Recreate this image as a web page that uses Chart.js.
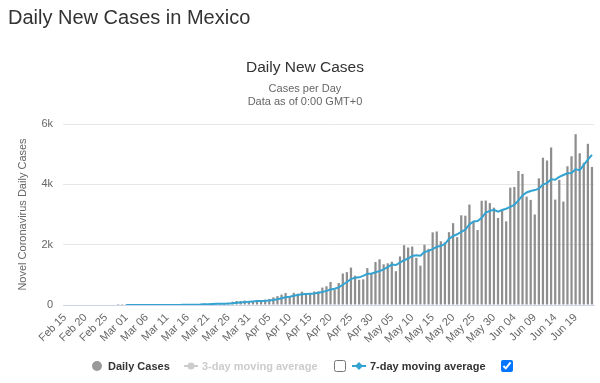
<!DOCTYPE html>
<html>
<head>
<meta charset="utf-8">
<script src="https://cdn.jsdelivr.net/npm/chart.js@4/dist/chart.umd.min.js"></script>
<style>
  html, body { margin: 0; padding: 0; background: #fff; }
  body { width: 600px; height: 383px; position: relative; overflow: hidden; font-family: "Liberation Sans", Arial, sans-serif; }
  #wrap { position: absolute; left: 0; top: 0; width: 600px; height: 383px; }
  .abs { position: absolute; white-space: nowrap; }
  #heading { left: 8px; top: 7px; font-size: 20px; line-height: 20px; color: #333; }
  .ctr { left: 5px; width: 600px; text-align: center; }
  #ctitle { top: 59px; font-size: 15.5px; line-height: 15.5px; color: #333; }
  #sub1 { top: 83px; font-size: 11px; line-height: 11px; color: #666; }
  #sub2 { top: 96px; font-size: 11px; line-height: 11px; color: #666; }
  .leg { font-size: 11px; line-height: 11px; font-weight: bold; top: 361px; }
  input[type=checkbox] { position: absolute; margin: 0; width: 12px; height: 12px; }
</style>
</head>
<body>
<div id="wrap"><canvas id="c" width="600" height="383"></canvas></div>
<div id="heading" class="abs">Daily New Cases in Mexico</div>
<div id="ctitle" class="abs ctr">Daily New Cases</div>
<div id="sub1" class="abs ctr">Cases per Day</div>
<div id="sub2" class="abs ctr">Data as of 0:00 GMT+0</div>

<svg class="abs" style="left:88px;top:358px" width="290" height="16">
  <circle cx="9" cy="8" r="5" fill="#999"/>
  <line x1="96" y1="8" x2="110" y2="8" stroke="#ccc" stroke-width="2"/>
  <circle cx="103" cy="8" r="3.5" fill="#ccc"/>
  <line x1="264" y1="8" x2="278" y2="8" stroke="#33a3d1" stroke-width="2"/>
  <path d="M271 4 L275 8 L271 12 L267 8 Z" fill="#33a3d1"/>
</svg>
<div class="abs leg" style="left:108px;color:#333">Daily Cases</div>
<div class="abs leg" style="left:202px;color:#ccc">3-day moving average</div>
<input type="checkbox" style="left:334px;top:360px">
<div class="abs leg" style="left:370px;color:#333">7-day moving average</div>
<input type="checkbox" checked style="left:501px;top:360px">

<script>
const dates = [
 "Feb 15","Feb 16","Feb 17","Feb 18","Feb 19","Feb 20","Feb 21","Feb 22","Feb 23","Feb 24","Feb 25","Feb 26","Feb 27","Feb 28","Feb 29",
 "Mar 01","Mar 02","Mar 03","Mar 04","Mar 05","Mar 06","Mar 07","Mar 08","Mar 09","Mar 10","Mar 11","Mar 12","Mar 13","Mar 14","Mar 15","Mar 16",
 "Mar 17","Mar 18","Mar 19","Mar 20","Mar 21","Mar 22","Mar 23","Mar 24","Mar 25","Mar 26","Mar 27","Mar 28","Mar 29","Mar 30","Mar 31",
 "Apr 01","Apr 02","Apr 03","Apr 04","Apr 05","Apr 06","Apr 07","Apr 08","Apr 09","Apr 10","Apr 11","Apr 12","Apr 13","Apr 14","Apr 15",
 "Apr 16","Apr 17","Apr 18","Apr 19","Apr 20","Apr 21","Apr 22","Apr 23","Apr 24","Apr 25","Apr 26","Apr 27","Apr 28","Apr 29","Apr 30",
 "May 01","May 02","May 03","May 04","May 05","May 06","May 07","May 08","May 09","May 10","May 11","May 12","May 13","May 14","May 15","May 16",
 "May 17","May 18","May 19","May 20","May 21","May 22","May 23","May 24","May 25","May 26","May 27","May 28","May 29","May 30","May 31",
 "Jun 01","Jun 02","Jun 03","Jun 04","Jun 05","Jun 06","Jun 07","Jun 08","Jun 09","Jun 10","Jun 11","Jun 12","Jun 13","Jun 14","Jun 15",
 "Jun 16","Jun 17","Jun 18","Jun 19","Jun 20","Jun 21","Jun 22","Jun 23"
];

const dailyCases = [
 null,null,null,null,null,null,null,null,null,null,null,null,null,1,3,
 1,0,0,0,0,1,0,1,0,0,1,4,4,10,15,12,29,11,25,46,39,48,65,51,38,70,110,132,131,145,101,
 121,163,132,178,202,253,296,346,396,260,403,375,442,353,385,448,450,578,622,764,511,729,1043,1089,1239,970,835,852,1223,1047,
 1425,1515,1349,1383,1434,1120,1609,1982,1906,1938,1562,1305,1997,1862,2409,2437,2112,2075,2414,2713,2248,2973,2960,3329,2764,2485,3455,3463,3377,3227,2885,
 3152,2771,3891,3912,4442,4346,3593,3484,2999,4199,4883,4790,5222,3494,4147,3427,4599,4930,5662,5030,4717,5343,4577
];

const movingAvg7 = [
 null,null,null,null,null,null,null,null,null,null,null,null,null,null,null,
 0.7,0.7,0.7,0.7,0.7,0.7,0.3,0.3,0.3,0.3,0.4,1.0,1.4,2.9,4.9,6.6,10.7,12.1,15.1,21.1,25.3,30,37.6,40.7,44.6,51,60.1,73.4,85.3,96.7,103.9,
 115.7,129,132.1,138.7,148.9,164.3,192.1,224.3,257.6,275.9,308,332.7,359.7,367.9,373.4,380.9,408,433,468.3,514.3,536.9,586,671,762.3,856.7,906.4,916.6,965.3,1035.9,1036.4,
 1084.4,1123.9,1178,1256.3,1339.4,1324.7,1405,1484.6,1540.4,1624.6,1650.1,1631.7,1757,1793.1,1854.1,1930,1954.9,2028.1,2186.6,2288.9,2344,2424.6,2499.3,2673.1,2771.6,2781.7,2887.7,3061.3,3119,3157.1,3093.7,
 3149.1,3190,3252.3,3316.4,3468.6,3628.4,3729.6,3777,3809.6,3853.6,3992.3,4042,4167.1,4153,4247.7,4308.9,4366,4372.7,4497.3,4469.9,4644.6,4815.4,4979.7
];

const yTicks = [0, 2000, 4000, 6000];
const yTickLabels = ["0", "2k", "4k", "6k"];
const tickEvery = 5;

const FONT = "'Liberation Sans', Arial, sans-serif";

new Chart(document.getElementById('c'), {
  data: {
    labels: dates,
    datasets: [
      {
        type: 'line',
        label: '7-day moving average',
        data: movingAvg7,
        borderColor: '#33a3d1',
        borderWidth: 2,
        pointRadius: 0,
        tension: 0,
        spanGaps: false,
        order: 0
      },
      {
        type: 'bar',
        label: 'Daily Cases',
        data: dailyCases,
        backgroundColor: '#8e8e8e',
        barPercentage: 0.55,
        categoryPercentage: 1.0,
        order: 1
      }
    ]
  },
  options: {
    responsive: false,
    animation: false,
    layout: { padding: { left: 0, right: 6, top: 124, bottom: 28 } },
    plugins: {
      legend: { display: false },
      tooltip: { enabled: false },
      title: { display: false }
    },
    scales: {
      x: {
        type: 'category',
        grid: { display: false, drawTicks: false },
        border: { display: true, color: '#ccd6eb', width: 1 },
        ticks: {
          autoSkip: false,
          maxRotation: 45,
          minRotation: 45,
          padding: 6,
          color: '#666',
          font: { family: FONT, size: 11 },
          callback: function(v, i) { return i % tickEvery === 0 ? dates[i] : ''; }
        },
        afterFit: function(s) { s.height = 50; s.paddingLeft = 0; s.paddingRight = 0; }
      },
      y: {
        min: 0,
        max: 6000,
        afterBuildTicks: function(s) { s.ticks = yTicks.map(v => ({ value: v })); },
        grid: { color: '#e6e6e6', drawTicks: false, lineWidth: 1 },
        border: { display: false },
        ticks: {
          padding: 10,
          color: '#666',
          font: { family: FONT, size: 11 },
          callback: function(v) { const k = yTicks.indexOf(v); return k >= 0 ? yTickLabels[k] : ''; }
        },
        title: {
          display: true,
          text: 'Novel Coronavirus Daily Cases',
          color: '#666',
          font: { family: FONT, size: 11 },
          padding: { top: 16, bottom: 0 }
        },
        afterFit: function(s) { s.width = 63; }
      }
    }
  }
});
</script>
</body>
</html>
